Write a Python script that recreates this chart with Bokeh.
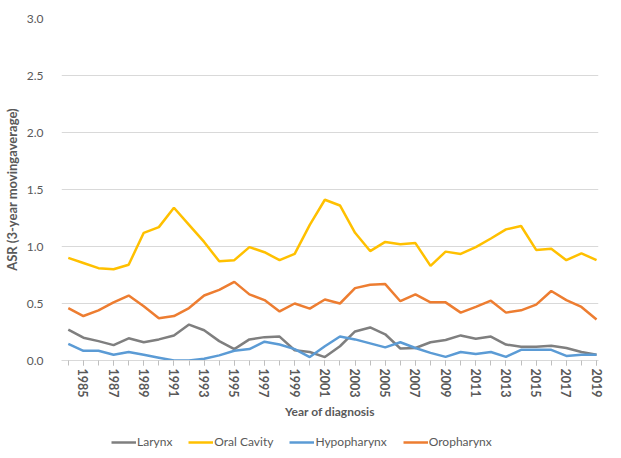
import math
from bokeh.plotting import figure
from bokeh.layouts import column
from bokeh.models import FixedTicker, NumeralTickFormatter, Legend, LegendItem, Range1d
from bokeh.embed import file_html
from bokeh.resources import INLINE

years = list(range(1984, 2020))
oral_cavity = [0.90, 0.855, 0.81, 0.80, 0.84, 1.12, 1.17, 1.34, 1.19, 1.04, 0.87, 0.88,
               0.995, 0.95, 0.88, 0.935, 1.19, 1.41, 1.36, 1.12, 0.96, 1.04, 1.02, 1.03,
               0.83, 0.955, 0.935, 0.995, 1.07, 1.15, 1.18, 0.97, 0.98, 0.88, 0.94, 0.88]
oropharynx = [0.46, 0.39, 0.44, 0.51, 0.57, 0.475, 0.37, 0.39, 0.46, 0.57, 0.62, 0.69,
              0.58, 0.53, 0.43, 0.50, 0.455, 0.535, 0.50, 0.635, 0.665, 0.67, 0.52, 0.58,
              0.51, 0.51, 0.42, 0.47, 0.525, 0.42, 0.44, 0.49, 0.61, 0.53, 0.47, 0.36]
larynx = [0.27, 0.20, 0.17, 0.135, 0.195, 0.16, 0.185, 0.22, 0.315, 0.265, 0.17, 0.10,
          0.185, 0.205, 0.21, 0.09, 0.075, 0.03, 0.125, 0.255, 0.29, 0.23, 0.105, 0.11,
          0.16, 0.18, 0.22, 0.19, 0.21, 0.14, 0.12, 0.12, 0.13, 0.11, 0.075, 0.05]
hypopharynx = [0.145, 0.085, 0.085, 0.05, 0.075, 0.05, 0.025, 0.0, 0.0, 0.015, 0.045, 0.085,
               0.10, 0.165, 0.14, 0.10, 0.03, 0.125, 0.21, 0.185, 0.15, 0.115, 0.16, 0.11,
               0.067, 0.032, 0.075, 0.058, 0.075, 0.032, 0.094, 0.094, 0.094, 0.04, 0.05, 0.05]
y_ticks = [0.0, 0.5, 1.0, 1.5, 2.0, 2.5, 3.0]
x_label_years = list(range(1985, 2020, 2))

FONT = "Lato"
TXT = "#595959"

series = [("Larynx", larynx, "#7f7f7f"),
          ("Oral Cavity", oral_cavity, "#ffc000"),
          ("Hypopharynx", hypopharynx, "#5b9bd5"),
          ("Oropharynx", oropharynx, "#ed7d31")]

p = figure(width=605, height=422, output_backend="svg", toolbar_location=None,
           x_range=Range1d(1983.55, 2019.13), y_range=Range1d(0, 3.0),
           min_border_left=50, min_border_right=7, min_border_top=18, min_border_bottom=61)
p.outline_line_color = None
p.xgrid.visible = False
p.ygrid.grid_line_color = "#d9d9d9"
p.ygrid.grid_line_width = 1

for name, vals, col in [series[1], series[3], series[0], series[2]]:
    p.line(years, vals, line_color=col, line_width=2.5)

xa = p.xaxis[0]
xa.ticker = FixedTicker(ticks=x_label_years, minor_ticks=years)
xa.major_label_orientation = "vertical"
xa.major_label_text_font = FONT
xa.major_label_text_font_style = "bold"
xa.major_label_text_font_size = "12.5px"
xa.major_label_text_color = TXT
xa.major_label_standoff = 3
xa.major_tick_in = 0
xa.major_tick_out = 5
xa.minor_tick_in = 0
xa.minor_tick_out = 5
xa.major_tick_line_color = "#bfbfbf"
xa.minor_tick_line_color = "#bfbfbf"
xa.axis_line_color = "#d9d9d9"
xa.axis_label = "Year of diagnosis"
xa.axis_label_text_font = FONT
xa.axis_label_text_font_style = "bold"
xa.axis_label_text_font_size = "12px"
xa.axis_label_text_color = TXT
xa.axis_label_standoff = 4

ya = p.yaxis[0]
ya.ticker = FixedTicker(ticks=y_ticks)
ya.formatter = NumeralTickFormatter(format="0.0")
ya.major_label_text_font = FONT
ya.major_label_text_font_size = "12px"
ya.major_label_text_color = TXT
ya.major_label_standoff = 12
ya.major_tick_line_color = None
ya.minor_tick_line_color = None
ya.axis_line_color = None
ya.axis_label = "ASR (3-year movingaverage)"
ya.axis_label_text_font = FONT
ya.axis_label_text_font_style = "bold"
ya.axis_label_text_font_size = "13px"
ya.axis_label_text_color = TXT
ya.axis_label_standoff = 4

# legend strip: same series drawn, kept outside the strip's visible y range
lf = figure(width=605, height=28, output_backend="svg", toolbar_location=None,
            x_range=Range1d(1983.55, 2019.13), y_range=Range1d(10, 11),
            x_axis_type=None, y_axis_type=None, min_border=0)
lf.outline_line_color = None
lf.xgrid.visible = False
lf.ygrid.visible = False
items = []
for name, vals, col in series:
    r = lf.line(years, vals, line_color=col, line_width=2.5)
    items.append(LegendItem(label=name, renderers=[r]))
legend = Legend(items=items, orientation="horizontal", location=(50, 1),
                padding=0, margin=0, spacing=16, label_standoff=1,
                glyph_width=25, glyph_height=12, label_height=12,
                label_text_font=FONT, label_text_font_size="12px",
                label_text_color=TXT, background_fill_alpha=0,
                border_line_alpha=0)
lf.add_layout(legend)

layout = column(p, lf, spacing=0)
open("out.html", "w").write(file_html(layout, INLINE))
